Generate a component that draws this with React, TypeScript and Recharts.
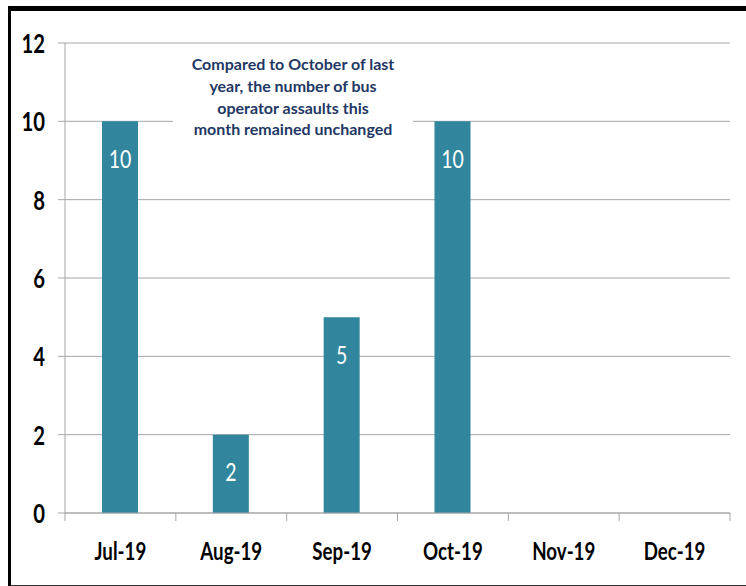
import { BarChart, Bar, XAxis, YAxis, CartesianGrid, LabelList } from 'recharts'

const months = ['Jul-19', 'Aug-19', 'Sep-19', 'Oct-19', 'Nov-19', 'Dec-19']
const assaults: (number | null)[] = [10, 2, 5, 10, null, null]
const yTicks = [0, 2, 4, 6, 8, 10, 12]
const noteLines = [
  'Compared to October of last',
  'year, the number of bus',
  'operator assaults this',
  'month remained unchanged',
]

const data = months.map((m, i) => ({ month: m, value: assaults[i] }))

// Calibri-ish look: Lato squeezed horizontally
const FONT = 'Lato, sans-serif'
const SQUEEZE = 0.78
const GRID = '#a6a6a6'

const YTick = (props: any) => {
  const { x, y, payload } = props
  return (
    <text
      transform={`translate(${x},${y}) scale(${SQUEEZE},1)`}
      textAnchor="end"
      dominantBaseline="central"
      fill="#000"
      fontFamily={FONT}
      fontWeight={700}
      fontSize={26}
    >
      {payload.value}
    </text>
  )
}

const XTick = (props: any) => {
  const { x, y, payload, index, visibleTicksCount } = props
  const half = payload.offset ?? 55.4
  const last = index === (visibleTicksCount ?? 6) - 1
  return (
    <g>
      <line x1={x - half} x2={x - half} y1={y - 8} y2={y} stroke={GRID} />
      {last && <line x1={x + half} x2={x + half} y1={y - 8} y2={y} stroke={GRID} />}
      <text
        transform={`translate(${x},${y + 30}) scale(${SQUEEZE},1)`}
        textAnchor="middle"
        dominantBaseline="central"
        fill="#000"
        fontFamily={FONT}
        fontWeight={700}
        fontSize={24}
      >
        {payload.value}
      </text>
    </g>
  )
}

const BarValue = (props: any) => {
  const { x, y, width, value } = props
  if (value == null) return null
  return (
    <text
      transform={`translate(${x + width / 2},${y + 37}) scale(${SQUEEZE},1)`}
      textAnchor="middle"
      dominantBaseline="central"
      fill="#fff"
      fontFamily={FONT}
      fontSize={25}
    >
      {value}
    </text>
  )
}

export default function App() {
  return (
    <div style={{ position: 'absolute', left: 0, top: 0, width: 746, height: 586, overflow: 'hidden', background: '#fff' }}>
      <div
        style={{
          position: 'absolute',
          left: 8,
          top: 6,
          width: 800,
          height: 574,
          borderTop: '5px solid #000',
          borderLeft: '3px solid #000',
          borderBottom: '3px solid #333',
        }}
      />
      <div style={{ position: 'absolute', left: 0, top: 0 }}>
        <BarChart width={746} height={586} data={data} margin={{ top: 43, right: 16, left: 0, bottom: 0 }}>
          <CartesianGrid vertical={false} stroke={GRID} />
          <XAxis
            dataKey="month"
            height={73}
            stroke={GRID}
            tickLine={false}
            tickSize={8}
            tickMargin={0}
            interval={0}
            tick={XTick}
          />
          <YAxis
            domain={[0, 12]}
            ticks={yTicks}
            width={65}
            tickSize={7}
            tickMargin={13}
            stroke={GRID}
            tick={YTick}
          />
          <Bar dataKey="value" fill="#31859c" barSize={36} isAnimationActive={false}>
            <LabelList dataKey="value" content={BarValue} />
          </Bar>
        </BarChart>
      </div>
      <div
        style={{
          position: 'absolute',
          left: 173,
          top: 53,
          width: 240,
          background: '#fff',
          textAlign: 'center',
          fontFamily: FONT,
          fontWeight: 700,
          fontSize: 16,
          lineHeight: '21.8px',
          color: '#1f3864',
        }}
      >
        {noteLines.map((l) => (
          <div key={l}>{l}</div>
        ))}
      </div>
    </div>
  )
}
